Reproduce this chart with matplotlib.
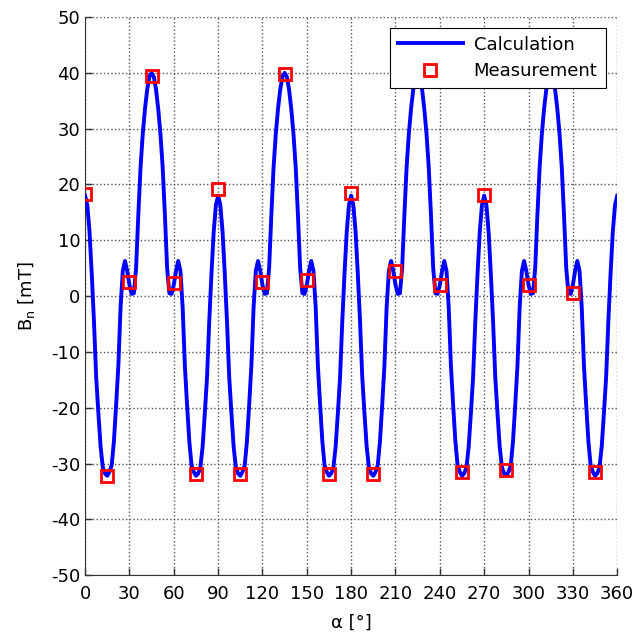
import numpy as np
import matplotlib
matplotlib.use("Agg")
import matplotlib.pyplot as plt

# calculated curve, one 90 deg period (0..90 in 1.5 deg steps)
period_alpha = np.arange(0, 90.1, 1.5)
period_bn = [18, 16.3, 11.5, 4, -4.5, -14.5, -21, -27, -30.7, -31.8,
             -32.2, -31.5, -30.3, -26, -19.5, -12.5, -2, 4.5, 6.3, 4.5,
             2, 0.4, 0.5, 5, 14.5, 23, 29, 33.5, 37, 39.3,
             40, 39.3, 37, 33.5, 29, 23, 14.5, 5, 0.5, 0.4,
             2, 4.5, 6.3, 4.5, -2, -12.5, -19.5, -26, -30.3, -31.5,
             -32.2, -31.8, -30.7, -27, -21, -14.5, -4.5, 4, 11.5, 16.3,
             18]

# measured points
meas_alpha = [0, 15, 30, 45, 60, 75, 90, 105, 120, 135, 150, 165,
              180, 195, 210, 225, 240, 255, 270, 285, 300, 315, 330, 345]
meas_bn = [18.3, -32.3, 2.6, 39.4, 2.4, -31.8, 19.2, -31.8, 2.5, 39.8, 2.8, -31.8,
           18.5, -31.8, 4.5, 39.5, 2.0, -31.5, 18.1, -31.2, 1.9, 39.5, 0.6, -31.5]

# the curve repeats every 90 deg over the full turn
calc_alpha = np.concatenate([period_alpha[:-1] + k * 90 for k in range(4)] + [[360]])
calc_bn = np.concatenate([period_bn[:-1]] * 4 + [[period_bn[-1]]])

plt.rcParams['font.family'] = ['DejaVu Sans']
plt.rcParams['mathtext.default'] = 'regular'
plt.rcParams['axes.unicode_minus'] = False

fig = plt.figure(figsize=(6.35, 6.32), dpi=100)
ax = fig.add_axes([0.134, 0.09, 0.838, 0.883])

ax.plot(calc_alpha, calc_bn, color='#0000ff', lw=2.8, label='Calculation', zorder=3)
ax.plot(meas_alpha, meas_bn, ls='none', marker='s', ms=8, mfc='none',
        mec='#ff0000', mew=2, label='Measurement', zorder=4)

ax.set_xlim(0, 360)
ax.set_ylim(-50, 50)
ax.set_xticks(np.arange(0, 361, 30))
ax.set_yticks(np.arange(-50, 51, 10))
ax.tick_params(direction='in', length=5, labelsize=13, width=1, color='#333333')
ax.tick_params(axis='x', pad=7)
ax.grid(True, ls=':', color='#555555', lw=1)
ax.spines['top'].set_visible(False)
ax.spines['right'].set_visible(False)
for s in ('left', 'bottom'):
    ax.spines[s].set_color('#333333')

ax.set_xlabel('α [°]', fontsize=13, labelpad=8)
ax.set_ylabel('B$_n$ [mT]', fontsize=13, labelpad=10)

leg = ax.legend(loc='upper right', bbox_to_anchor=(0.978, 0.981), borderaxespad=0,
                fontsize=13, fancybox=False, framealpha=1, edgecolor='black',
                handlelength=3.6, handletextpad=0.6, borderpad=0.45, labelspacing=0.45)
leg.get_frame().set_linewidth(0.8)
leg.set_zorder(10)

fig.savefig('out.png', dpi=100)
